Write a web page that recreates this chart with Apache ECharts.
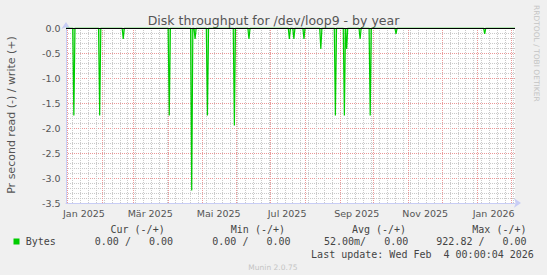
<!DOCTYPE html>
<html><head><meta charset="utf-8">
<script src="https://cdn.jsdelivr.net/npm/echarts@6/dist/echarts.min.js"></script>
<style>html,body{margin:0;padding:0;background:#f0f0f0}#c{width:547px;height:275px}</style>
</head><body><div id="c"></div>
<script>
// ---- data ----
const startDay = '2024-12-31';
const dayCount = 401; // through 2026-02-04
const spikeDates = ['2025-01-07','2025-01-30','2025-02-20','2025-04-02','2025-04-22','2025-04-25',
  '2025-05-06','2025-05-30','2025-06-12','2025-07-18','2025-07-22','2025-07-31','2025-08-15',
  '2025-08-28','2025-09-05','2025-09-07','2025-09-19','2025-09-28','2025-10-21','2026-01-08'];
const spikeValues = [-1.75,-1.75,-0.22,-1.75,-3.25,-0.22,
  -1.75,-1.95,-0.22,-0.22,-0.22,-0.22,-0.42,
  -1.75,-1.75,-0.42,-0.22,-1.75,-0.12,-0.12];
const monthNames = ['Jan','Feb','Mär','Apr','Mai','Jun','Jul','Aug','Sep','Okt','Nov','Dez'];
const yMin = -3.5, yMax = 0, yStep = 0.5;
const titleText = 'Disk throughput for /dev/loop9 - by year';
const yAxisName = 'Pr second read (-) / write (+)';
const watermark = 'RRDTOOL / TOBI OETIKER';
const footer = 'Munin 2.0.75';
const legendHeaders = ['Cur (-/+)','Min (-/+)','Avg (-/+)','Max (-/+)'];
const legendSeries = 'Bytes';
const legendValues = ['0.00 /   0.00','0.00 /   0.00','52.00m/   0.00','922.82 /   0.00'];
const lastUpdate = 'Last update: Wed Feb  4 00:00:04 2026';

// ---- build ----
const days = [];
{
  const t0 = Date.parse(startDay + 'T00:00:00Z');
  for (let i = 0; i < dayCount; i++) days.push(new Date(t0 + i * 86400000).toISOString().slice(0, 10));
}
const spikeMap = {};
spikeDates.forEach((d, i) => spikeMap[d] = spikeValues[i]);
const values = days.map(d => (d in spikeMap) ? spikeMap[d] : 0);

const dt = v => new Date(v + 'T00:00:00Z');
const isMonthStart = (i, v) => dt(v).getUTCDate() === 1;
const isMonday = (i, v) => dt(v).getUTCDay() === 1;
const isLabelDay = (i, v) => { const d = dt(v); return d.getUTCDate() === 16 && d.getUTCMonth() % 2 === 0; };
const fmtLabel = v => { const d = dt(v); return monthNames[d.getUTCMonth()] + ' ' + d.getUTCFullYear(); };

const SANS = 'DejaVu Sans', MONO = 'DejaVu Sans Mono';
const CW = 6.02; // mono char width at 10px
const graphics = [];
function monoText(str, x, y, color) {
  // place each word at its monospace column so runs of spaces are kept
  const re = /\S+/g; let m;
  while ((m = re.exec(str)) !== null) {
    graphics.push({type: 'text', x: x + m.index * CW, y: y, silent: true,
      style: {text: m[0], font: '10px ' + MONO, fill: color, align: 'left', verticalAlign: 'middle'}});
  }
}
graphics.push({type: 'text', x: 273.5, y: 20.3, silent: true,
  style: {text: titleText, font: '12.5px ' + SANS, fill: '#555', align: 'center', verticalAlign: 'middle'}});
graphics.push({type: 'text', x: 11.7, y: 115, rotation: Math.PI / 2, silent: true,
  style: {text: yAxisName, font: '11px ' + SANS, fill: '#555', align: 'center', verticalAlign: 'middle'}});
graphics.push({type: 'text', x: 536.7, y: 5, rotation: -Math.PI / 2, silent: true,
  style: {text: watermark, font: '7.5px ' + SANS, fill: '#c4c4c4', align: 'left', verticalAlign: 'middle'}});
graphics.push({type: 'text', x: 272.9, y: 267.6, silent: true,
  style: {text: footer, font: '7.5px ' + SANS, fill: '#c4c4c4', align: 'center', verticalAlign: 'middle'}});
graphics.push({type: 'rect', shape: {x: 13.5, y: 238.5, width: 6, height: 6}, silent: true,
  style: {fill: '#00cc00'}});
const headX = [110.5, 230.8, 351.9, 472.3];
const valX = [94.8, 212.3, 324.0, 436.3];
legendHeaders.forEach((h, i) => monoText(h, headX[i], 229.2, '#444'));
monoText(legendSeries, 25.7, 241.4, '#444');
legendValues.forEach((v, i) => monoText(v, valX[i], 241.4, '#444'));
monoText(lastUpdate, 311.1, 254.3, '#444');

const axisBlue = '#c8cdf5', majorGrid = '#eb9898', minorGrid = '#cacaca';
const option = {
  backgroundColor: '#f0f0f0',
  animation: false,
  grid: {left: 66, top: 28, width: 449, height: 175, show: true, backgroundColor: '#ffffff', borderWidth: 0},
  xAxis: [
    {type: 'category', data: days, boundaryGap: false, position: 'bottom', z: 2,
      axisLine: {onZero: false, lineStyle: {color: axisBlue}, symbol: ['none', 'arrow'], symbolSize: [7, 7], symbolOffset: [0, 6]},
      axisTick: {show: false},
      axisLabel: {interval: isLabelDay, formatter: fmtLabel, fontFamily: SANS, fontSize: 9.5, color: '#555', margin: 5},
      splitLine: {show: true, interval: isMonthStart, lineStyle: {color: majorGrid, type: [1, 1], width: 1}}},
    {type: 'category', data: days, boundaryGap: false, position: 'top', z: 1,
      axisLine: {show: false}, axisTick: {show: false}, axisLabel: {show: false},
      splitLine: {show: true, interval: isMonday, lineStyle: {color: minorGrid, type: [1, 1], width: 1}}}
  ],
  yAxis: {type: 'value', min: yMin, max: yMax, interval: yStep,
    axisLine: {show: true, lineStyle: {color: axisBlue}, symbol: ['none', 'arrow'], symbolSize: [7, 7], symbolOffset: [0, 6]},
    axisTick: {show: false},
    axisLabel: {formatter: v => v.toFixed(1), fontFamily: SANS, fontSize: 9.5, color: '#555', margin: 5.5},
    splitLine: {show: true, lineStyle: {color: majorGrid, type: [1, 1], width: 1}},
    minorTick: {show: false, splitNumber: 5},
    minorSplitLine: {show: true, lineStyle: {color: minorGrid, type: [1, 1], width: 1}}},
  series: [{type: 'line', name: legendSeries, xAxisIndex: 0, data: values, symbol: 'none', z: 3,
    lineStyle: {color: '#00cc00', width: 1.2}, areaStyle: {color: 'rgba(0,204,0,0.45)'},
    markLine: {silent: true, symbol: 'none', label: {show: false},
      lineStyle: {color: '#000', type: 'solid', width: 1}, data: [{yAxis: 0}]}}],
  graphic: graphics
};
const chart = echarts.init(document.getElementById('c'), null, {renderer: 'svg'});
chart.setOption(option);
</script></body></html>
